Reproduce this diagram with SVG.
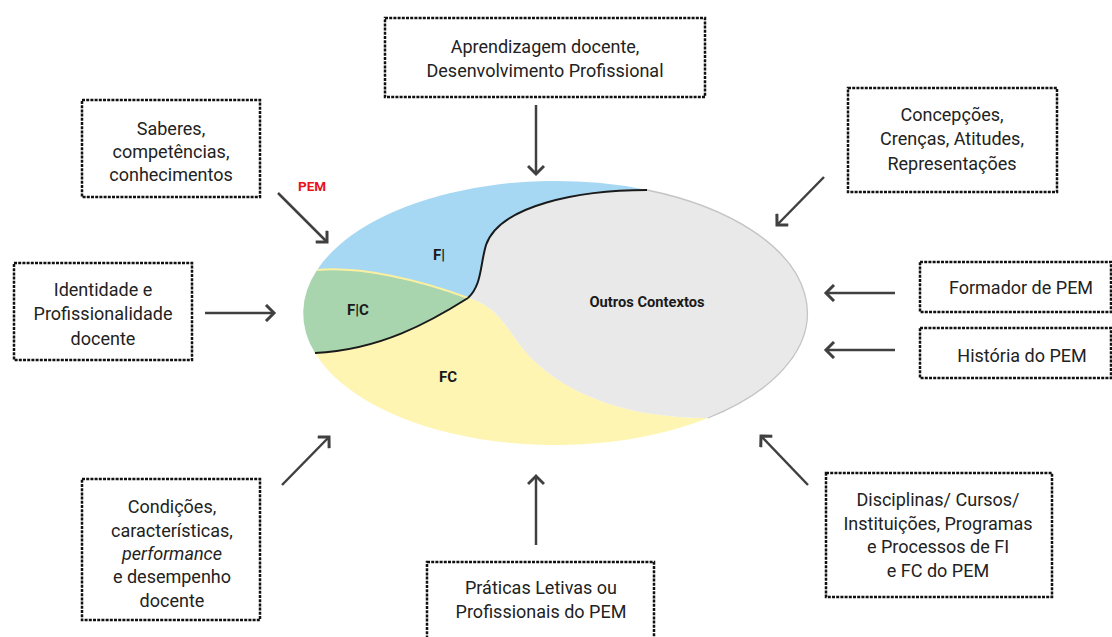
<svg xmlns="http://www.w3.org/2000/svg" width="1112" height="637" viewBox="0 0 1112 637">
<style>
.box{fill:#fff;stroke:#111;stroke-width:2.5;stroke-dasharray:3 1.2}
.t{font-family:Roboto,"Liberation Sans",sans-serif;font-size:18px;fill:#222;text-anchor:middle}
.lbl{font-family:Roboto,"Liberation Sans",sans-serif;font-size:15px;font-weight:bold;fill:#1a1a1a;text-anchor:middle}
.arr{stroke:#404040;stroke-width:2.5;fill:none;marker-end:url(#ah)}
.blk{stroke:#1a1a1a;stroke-width:2;fill:none}
</style>
<defs>
<marker id="ah" markerUnits="userSpaceOnUse" markerWidth="16" markerHeight="18" refX="10" refY="9" orient="auto" viewBox="0 0 16 18">
<path d="M2,1 L10,9 L2,17" fill="none" stroke="#404040" stroke-width="3" stroke-linejoin="miter"/>
</marker>
</defs>
<rect width="1112" height="637" fill="#fff"/>
<g id="ellipse">
<path d="M315,353 A252,132 0 0 0 708,418 C690,418 670,417 640,412 C580,400 540,372 520,345 C505,325 495,305 468,298 C430,322 380,350 315,353 Z" fill="#fef5b2"/>
<path d="M647,190 A252,132 0 0 1 708,418 C690,418 670,417 640,412 C580,400 540,372 520,345 C505,325 495,305 468,298 C482,285 480,265 486,245 C500,205 580,190 647,190 Z" fill="#e9e9e9"/>
<path d="M647,190 A252,132 0 0 1 708,418" fill="none" stroke="#c4c4c4" stroke-width="1.3"/>
<path d="M317,270 A252,132 0 0 1 647,190 C580,190 500,205 486,245 C480,265 482,285 468,298 C420,280 360,266 317,270 Z" fill="#a6d8f4"/>
<path d="M317,270 C360,266 420,280 468,298 C430,322 380,350 315,353 A252,132 0 0 1 317,270 Z" fill="#a8d5ae"/>
<path d="M317,270 C360,266 420,280 468,298" fill="none" stroke="#fbf0a0" stroke-width="2"/>
<path class="blk" d="M647,190 C580,190 500,205 486,245 C480,265 482,285 468,298"/>
<path class="blk" d="M468,298 C430,322 380,350 315,353"/>
<text class="lbl" x="439" y="260">F|</text>
<text class="lbl" x="358" y="315">F|C</text>
<text class="lbl" x="448" y="382">FC</text>
<text class="lbl" x="647" y="307" textLength="115" lengthAdjust="spacingAndGlyphs">Outros Contextos</text>
<text x="312" y="191" font-family="Roboto,'Liberation Sans',sans-serif" font-size="13.5" font-weight="bold" fill="#e8141c" text-anchor="middle">PEM</text>
</g>
<g id="connectors">
<line class="arr" x1="536" y1="105" x2="536" y2="174"/>
<line class="arr" x1="278" y1="193" x2="327" y2="242"/>
<line class="arr" x1="205" y1="313" x2="274" y2="313"/>
<line class="arr" x1="824" y1="177" x2="777" y2="225"/>
<line class="arr" x1="895" y1="293" x2="826" y2="293"/>
<line class="arr" x1="895" y1="350" x2="826" y2="350"/>
<line class="arr" x1="808" y1="485" x2="761" y2="436"/>
<line class="arr" x1="536" y1="545" x2="536" y2="476"/>
<line class="arr" x1="282" y1="485" x2="329" y2="437"/>
</g>
<g id="n-aprendizagem">
<rect class="box" x="385" y="18" width="320" height="79"/>
<text class="t" x="545" y="53">Aprendizagem docente,</text>
<text class="t" x="545" y="77">Desenvolvimento Profissional</text>
</g>
<g id="n-saberes">
<rect class="box" x="82" y="100" width="178" height="97"/>
<text class="t" x="171" y="135">Saberes,</text>
<text class="t" x="171" y="158">competências,</text>
<text class="t" x="171" y="181">conhecimentos</text>
</g>
<g id="n-identidade">
<rect class="box" x="14" y="263" width="178" height="97"/>
<text class="t" x="103" y="296">Identidade e</text>
<text class="t" x="103" y="320">Profissionalidade</text>
<text class="t" x="103" y="345">docente</text>
</g>
<g id="n-concepcoes">
<rect class="box" x="848" y="88" width="209" height="104"/>
<text class="t" x="952" y="121">Concepções,</text>
<text class="t" x="952" y="145">Crenças, Atitudes,</text>
<text class="t" x="952" y="170">Representações</text>
</g>
<g id="n-formador">
<rect class="box" x="920" y="262" width="191" height="50"/>
<text class="t" x="1021" y="294">Formador de PEM</text>
</g>
<g id="n-historia">
<rect class="box" x="920" y="328" width="191" height="50"/>
<text class="t" x="1022" y="362">História do PEM</text>
</g>
<g id="n-disciplinas">
<rect class="box" x="826" y="473" width="226" height="124"/>
<text class="t" x="938" y="506">Disciplinas/ Cursos/</text>
<text class="t" x="938" y="530">Instituições, Programas</text>
<text class="t" x="938" y="553">e Processos de FI</text>
<text class="t" x="938" y="577">e FC do PEM</text>
</g>
<g id="n-praticas">
<rect class="box" x="427" y="562" width="227" height="80"/>
<text class="t" x="541" y="594">Práticas Letivas ou</text>
<text class="t" x="541" y="618">Profissionais do PEM</text>
</g>
<g id="n-condicoes">
<rect class="box" x="82" y="479" width="178" height="141"/>
<text class="t" x="172" y="513">Condições,</text>
<text class="t" x="172" y="537">características,</text>
<text class="t" x="172" y="560" font-style="italic">performance</text>
<text class="t" x="172" y="583">e desempenho</text>
<text class="t" x="172" y="607">docente</text>
</g>
</svg>
